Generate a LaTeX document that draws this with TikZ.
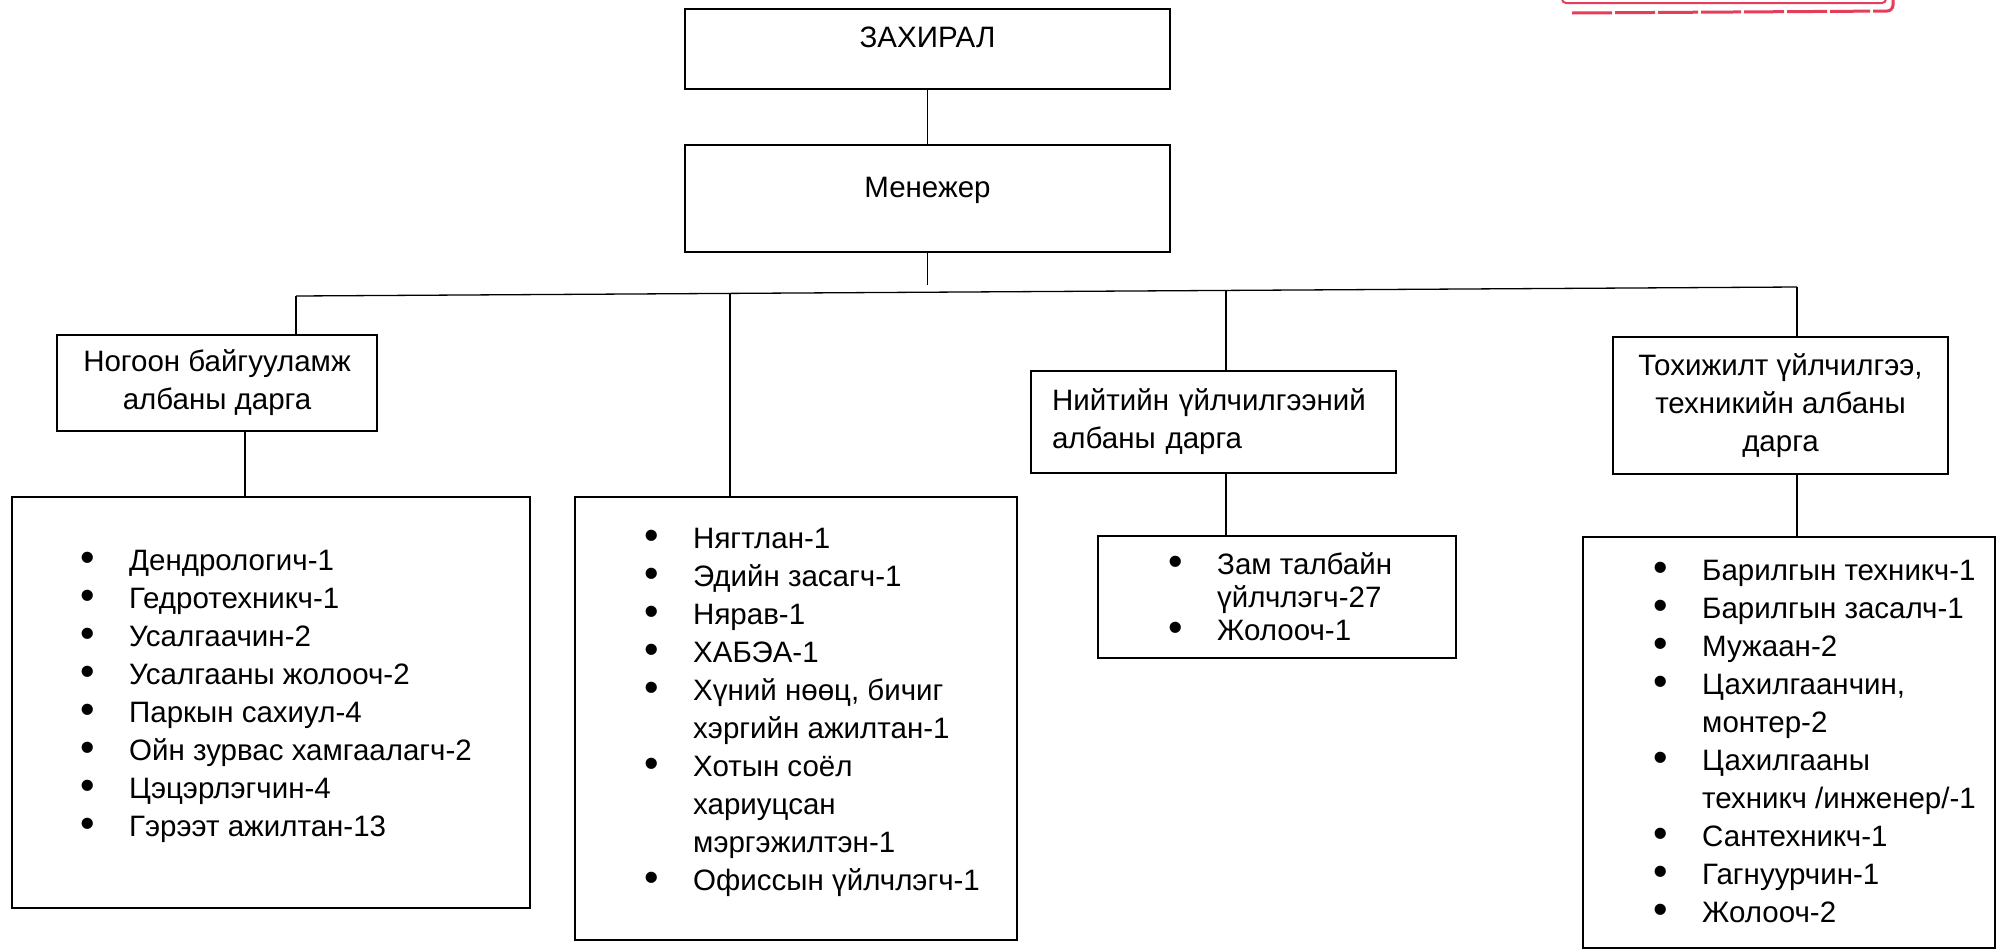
\documentclass[tikz,border=0pt]{standalone}
\usepackage{fontspec}
\setmainfont{Liberation Sans}
\usetikzlibrary{calc}
\definecolor{stampred}{RGB}{228,62,92}
\newcommand{\bul}{\makebox[49pt][l]{\raisebox{-1pt}{\scalebox{1.4}{\textbullet}}}}
\newcommand{\con}{\hspace*{49pt}}
\newcommand{\stafflist}[5][]{
	\node[listtext,#1] (#2) at (#3,#4) {\begin{tabular}[t]{@{}l@{}}#5\end{tabular}};
}
\tikzset{
	box/.style={draw, line width=2.2pt, rectangle, inner sep=0pt},
	link/.style={line width=1.3pt},
	listtext/.style={anchor=base west, inner sep=0pt},
}

\begin{document}
\begin{tikzpicture}[x=1pt,y=-1pt,font=\fontsize{29.5}{38}\selectfont]
	\useasboundingbox (0,0) rectangle (2001,951);

	% top of the chart
	\node[box, minimum width=485pt, text height=38pt, text depth=42pt, anchor=base] (director) at (927.5,47) {ЗАХИРАЛ};
	\node[box, minimum width=485pt, text height=52pt, text depth=55pt, anchor=base] (manager) at (927.5,197) {Менежер};

	% heads of the services
	\node[box, minimum width=320pt, minimum height=96pt, align=center] (greenhead) at (217,383) {Ногоон байгууламж\\албаны дарга};
	\node[box, text width=323pt, inner xsep=21pt, minimum height=102pt, align=left] (publichead) at (1213.5,422) {Нийтийн үйлчилгээний\\албаны дарга};
	\node[box, minimum width=335pt, minimum height=137pt, align=center] (techhead) at (1780.5,405.5) {Тохижилт үйлчилгээ,\\техникийн албаны\\дарга};

	% staff boxes
	\node[box, minimum width=518pt, minimum height=411pt] (greenstaff) at (271,702.5) {};
	\node[box, minimum width=442pt, minimum height=443pt] (officestaff) at (796,718.5) {};
	\node[box, minimum width=358pt, minimum height=122pt] (publicstaff) at (1277,597) {};
	\node[box, minimum width=412pt, minimum height=411pt] (techstaff) at (1789,742.5) {};

	\stafflist{greenlist}{80}{570}{\bul Дендрологич-1\\ \bul Гедротехникч-1\\ \bul Усалгаачин-2\\ \bul Усалгааны жолооч-2\\ \bul Паркын сахиул-4\\ \bul Ойн зурвас хамгаалагч-2\\ \bul Цэцэрлэгчин-4\\ \bul Гэрээт ажилтан-13}
	\stafflist{officelist}{644}{548}{\bul Нягтлан-1\\ \bul Эдийн засагч-1\\ \bul Нярав-1\\ \bul ХАБЭА-1\\ \bul Хүний нөөц, бичиг\\ \con хэргийн ажилтан-1\\ \bul Хотын соёл\\ \con хариуцсан\\ \con мэргэжилтэн-1\\ \bul Офиссын үйлчлэгч-1}
	\stafflist[font=\fontsize{29.5}{33}\selectfont]{publiclist}{1168}{574}{\bul Зам талбайн\\ \con үйлчлэгч-27\\ \bul Жолооч-1}
	\stafflist{techlist}{1653}{580}{\bul Барилгын техникч-1\\ \bul Барилгын засалч-1\\ \bul Мужаан-2\\ \bul Цахилгаанчин,\\ \con монтер-2\\ \bul Цахилгааны\\ \con техникч /инженер/-1\\ \bul Сантехникч-1\\ \bul Гагнуурчин-1\\ \bul Жолооч-2}

	% connectors
	\coordinate (greentap) at (296,296);
	\coordinate (techtap) at (1797,287);
	\coordinate (officetap) at ($(greentap)!0.2891!(techtap)$);
	\coordinate (publictap) at ($(greentap)!0.6196!(techtap)$);
	\coordinate (greendrop) at (245,0);

	\draw[link] (director) -- (manager);
	\draw[link] (manager.south) -- ++(0,32);
	\draw[link] (greentap) -- (techtap);
	\draw[link] (greentap) -- (greentap |- greenhead.north);
	\draw[link] (officetap) -- (officetap |- officestaff.north);
	\draw[link] (publictap) -- (publictap |- publichead.north);
	\draw[link] (techtap) -- (techtap |- techhead.north);
	\draw[link] (greendrop |- greenhead.south) -- (greendrop |- greenstaff.north);
	\draw[link] (publictap |- publichead.south) -- (publictap |- publicstaff.north);
	\draw[link] (techtap |- techhead.south) -- (techtap |- techstaff.north);

	% stamp edge
	\draw[stampred, line width=2pt, rounded corners=4pt] (1562,0) |- (1886,3) -- (1886,0);
	\draw[stampred, line width=3pt, dash pattern=on 40pt off 3pt, rounded corners=6pt] (1572,13) -- (1893,11) -- (1893,0);
\end{tikzpicture}
\end{document}
